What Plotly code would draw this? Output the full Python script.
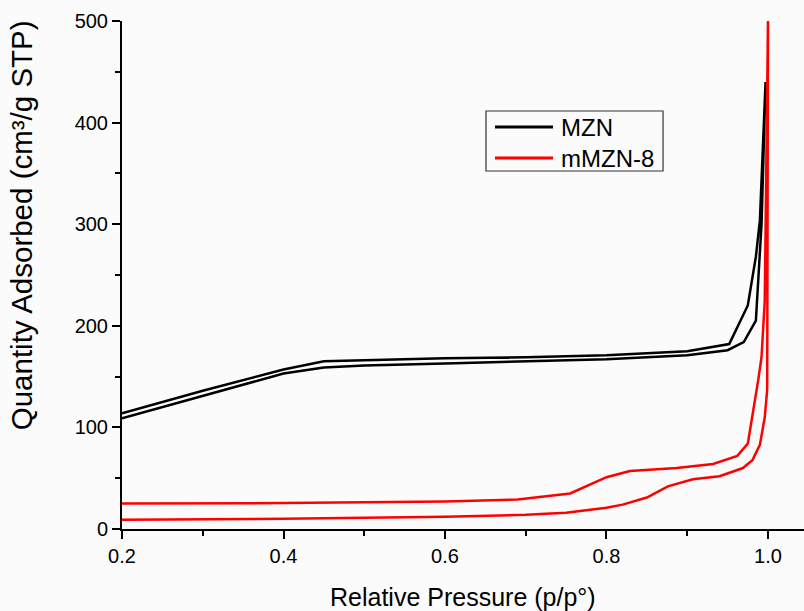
import plotly.graph_objects as go

# MZN adsorption / desorption branches
mzn_ads_x = [0.2, 0.3, 0.4, 0.45, 0.5, 0.6, 0.7, 0.8, 0.9, 0.95, 0.97, 0.985, 0.992, 0.997]
mzn_ads_y = [109, 131, 153, 159, 161, 163, 165, 167, 171, 176, 184, 205, 300, 440]
mzn_des_x = [0.997, 0.99, 0.985, 0.975, 0.952, 0.9, 0.8, 0.7, 0.6, 0.5, 0.45, 0.4, 0.3, 0.2]
mzn_des_y = [440, 304, 268, 220, 182, 175, 171, 169, 168, 166, 165, 157, 136, 114]

# mMZN-8 adsorption / desorption branches
m8_ads_x = [0.2, 0.4, 0.6, 0.7, 0.75, 0.8, 0.82, 0.85, 0.876, 0.907, 0.94, 0.969, 0.981, 0.99, 0.996, 0.999, 1.0]
m8_ads_y = [9, 10, 12, 14, 16, 21, 24, 31, 42, 49, 52, 60, 68, 83, 110, 137, 500]
m8_des_x = [1.0, 0.996, 0.992, 0.988, 0.975, 0.962, 0.932, 0.887, 0.829, 0.80, 0.755, 0.69, 0.6, 0.4, 0.2]
m8_des_y = [500, 225, 169, 147, 84, 72, 64, 60, 57, 51, 35, 29, 27, 25.5, 25]

series_names = ["MZN", "mMZN-8"]
series_colors = ["black", "red"]

x_ticks = [0.2, 0.4, 0.6, 0.8, 1.0]
x_tick_text = ["0.2", "0.4", "0.6", "0.8", "1.0"]
y_ticks = [0, 100, 200, 300, 400, 500]

x_title = "Relative Pressure (p/p°)"
y_title = "Quantity Adsorbed (cm³/g STP)"

FONT = "Liberation Sans, Arial, sans-serif"
BG = "#fbfbfb"

fig = go.Figure()
fig.add_trace(go.Scatter(x=mzn_ads_x + mzn_des_x, y=mzn_ads_y + mzn_des_y, mode="lines",
                         name=series_names[0], line=dict(color=series_colors[0], width=2.5),
                         showlegend=False))
fig.add_trace(go.Scatter(x=m8_ads_x + m8_des_x, y=m8_ads_y + m8_des_y, mode="lines",
                         name=series_names[1], line=dict(color=series_colors[1], width=2.5),
                         showlegend=False))

axis_common = dict(showgrid=False, zeroline=False, showline=True, linecolor="black", linewidth=2,
                   ticks="outside", ticklen=8, tickwidth=2, tickcolor="black",
                   tickfont=dict(family=FONT, size=20, color="black"))

# manual legend (box, line samples, labels) in paper coordinates
box = dict(x0=0.5337, x1=0.7933, y0=0.7047, y1=0.8228)
line_x = (0.5469, 0.6320)
item_y = [0.7913, 0.7303]
text_x = 0.6408

shapes = [dict(type="rect", xref="paper", yref="paper", line=dict(color="#333", width=1.2),
               fillcolor=BG, layer="above", **box)]
annotations = []
for name, color, yy in zip(series_names, series_colors, item_y):
    shapes.append(dict(type="line", xref="paper", yref="paper", x0=line_x[0], x1=line_x[1],
                       y0=yy, y1=yy, line=dict(color=color, width=3), layer="above"))
    annotations.append(dict(xref="paper", yref="paper", x=text_x, y=yy, xanchor="left",
                            yanchor="middle", text=name, showarrow=False,
                            font=dict(family=FONT, size=24, color="black")))

annotations.append(dict(xref="paper", yref="paper", x=0.5, y=-0.1339, xanchor="center",
                        yanchor="middle", text=x_title, showarrow=False,
                        font=dict(family=FONT, size=25, color="black")))
annotations.append(dict(xref="paper", yref="paper", x=-0.148, y=0.598, xanchor="center",
                        yanchor="middle", text=y_title, showarrow=False, textangle=-90,
                        font=dict(family=FONT, size=29.5, color="black")))

fig.update_layout(
    width=804, height=611,
    margin=dict(l=122, r=0, t=21, b=82),
    paper_bgcolor=BG, plot_bgcolor=BG,
    font=dict(family=FONT, color="black"),
    xaxis=dict(range=[0.2, 1.0446], tickvals=x_ticks, ticktext=x_tick_text,
               minor=dict(ticks="outside", ticklen=5, tickwidth=2, tickcolor="black", dtick=0.1),
               **axis_common),
    yaxis=dict(range=[0, 500], tickvals=y_ticks,
               minor=dict(ticks="outside", ticklen=5, tickwidth=2, tickcolor="black", dtick=50),
               **axis_common),
    shapes=shapes,
    annotations=annotations,
    showlegend=False,
)

fig.write_html("out.html")
